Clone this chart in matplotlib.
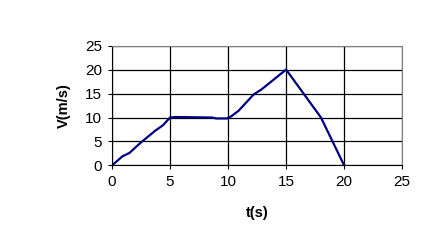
import matplotlib
matplotlib.use("Agg")
import matplotlib.pyplot as plt

t = [0, 0.9, 1.5, 2.4, 3.7, 4.4, 5.0, 5.5, 8.6, 9.0, 9.9, 10.3, 10.9, 12.2, 12.9, 15.0, 18.0, 20.0]
v = [0, 1.9, 2.6, 4.6, 7.2, 8.4, 10.0, 10.1, 10.0, 9.8, 9.8, 10.3, 11.4, 14.8, 15.9, 20.0, 10.0, 0]
xticks = [0, 5, 10, 15, 20, 25]
yticks = [0, 5, 10, 15, 20, 25]

plt.rcParams['font.family'] = ['Liberation Sans', 'DejaVu Sans']
fig = plt.figure(figsize=(4.41, 2.48), dpi=100)
ax = fig.add_axes([0.254, 0.333, 0.658, 0.483])
ax.plot(t, v, color='#000080', lw=1.6)
ax.set_xlim(0, 25)
ax.set_ylim(0, 25)
ax.set_xticks(xticks)
ax.set_yticks(yticks)
ax.grid(True, color='black', lw=0.9)
ax.set_axisbelow(True)
for s in ['top', 'right']:
    ax.spines[s].set_color('#808080')
for s in ['left', 'bottom']:
    ax.spines[s].set_color('black')
ax.tick_params(labelsize=11, length=3, color='black', pad=4)
ax.set_xlabel('t(s)', fontsize=10.5, fontweight='bold', labelpad=12)
ax.set_ylabel('V(m/s)', fontsize=10.5, fontweight='bold', labelpad=10)
fig.savefig('out.png', dpi=100)
